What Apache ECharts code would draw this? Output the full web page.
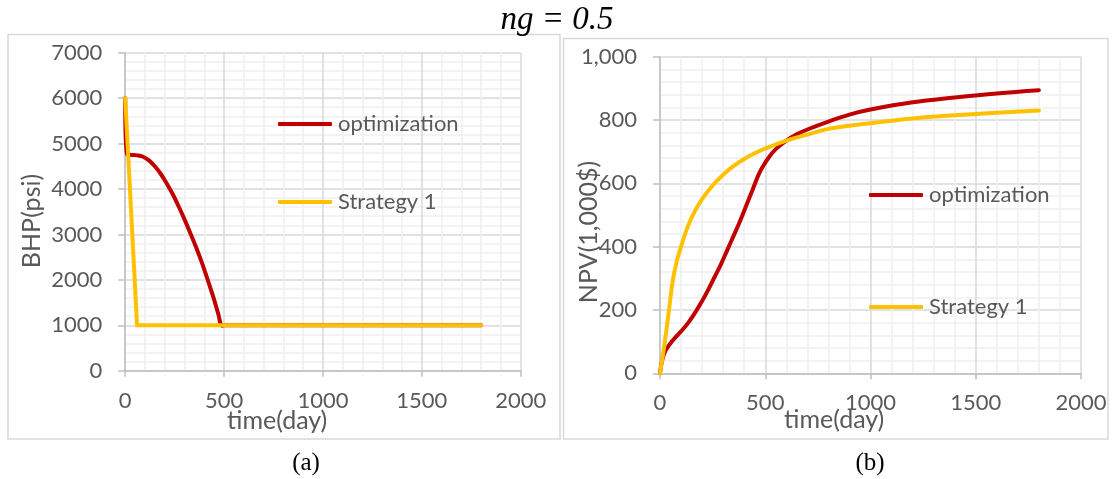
<!DOCTYPE html>
<html>
<head>
<meta charset="utf-8">
<script src="https://cdn.jsdelivr.net/npm/echarts@6/dist/echarts.min.js"></script>
<style>
html,body{margin:0;padding:0;background:#fff;}
#c{width:1113px;height:479px;}
</style>
</head>
<body>
<div id="c"></div>
<script>
// ---- data (time in days) ----
const xTicks = [0, 500, 1000, 1500, 2000];
const bhpTicks = [0, 1000, 2000, 3000, 4000, 5000, 6000, 7000];
const npvTicks = [0, 200, 400, 600, 800, 1000];
const seriesNames = ['optimization', 'Strategy 1'];

const bhpOptimization = [
  [0,6000],[10,4760],[30,4750],[60,4740],[90,4710],[120,4630],[150,4500],[180,4330],
  [210,4120],[240,3890],[270,3620],[300,3330],[330,3020],[360,2700],[390,2350],
  [420,1960],[450,1560],[470,1260],[490,990],[500,1000],[1800,1000]
];
const bhpStrategy1 = [[0,6000],[60,1000],[1800,1000]];

const npvOptimization = [
  [0,0],[10,40],[25,70],[50,95],[80,118],[110,140],[140,165],[170,195],[200,228],
  [230,265],[260,305],[290,345],[320,390],[350,435],[380,480],[410,530],[440,580],
  [470,630],[490,655],[520,685],[550,708],[600,735],[650,755],[700,770],[800,795],
  [900,817],[1000,833],[1200,856],[1400,871],[1600,884],[1800,894]
];
const npvStrategy1 = [
  [0,0],[20,85],[40,185],[60,290],[80,355],[100,400],[130,460],[160,505],[200,550],
  [250,593],[300,627],[350,655],[400,677],[450,695],[500,710],[600,735],[700,754],
  [800,772],[900,782],[1000,790],[1200,805],[1400,815],[1600,823],[1800,830]
];

// ---- styling ----
const FONT = 'Lato, "Open Sans", sans-serif';
const TXT = '#595959';
const RED = '#c00000';
const ORANGE = '#ffc000';

function xAxisCfg(gi){
  return {
    type:'value', gridIndex:gi, min:xTicks[0], max:xTicks[xTicks.length-1], interval:xTicks[1]-xTicks[0],
    axisLine:{show:true, onZero:false, lineStyle:{color:'#bfbfbf', width:1.5}},
    axisTick:{show:true, length:6, lineStyle:{color:'#bfbfbf', width:1.5}},
    minorTick:{show:false, splitNumber:5},
    minorSplitLine:{show:true, lineStyle:{color:'#efefef', width:1.5}},
    splitLine:{show:true, lineStyle:{color:'#d9d9d9', width:1.5}},
    axisLabel:{color:TXT, fontSize:22, fontFamily:FONT, margin:19, formatter:v => String(v)}
  };
}
function yAxisCfg(gi, ticks, fmt){
  return {
    type:'value', gridIndex:gi, min:ticks[0], max:ticks[ticks.length-1], interval:ticks[1]-ticks[0],
    axisLine:{show:true, lineStyle:{color:'#bfbfbf', width:1.5}},
    axisTick:{show:true, length:7, lineStyle:{color:'#bfbfbf', width:1.5}},
    minorTick:{show:false, splitNumber:5},
    minorSplitLine:{show:true, lineStyle:{color:'#efefef', width:1.5}},
    splitLine:{show:true, lineStyle:{color:'#d9d9d9', width:1.5}},
    axisLabel:{color:TXT, fontSize:22, fontFamily:FONT, margin:23, formatter:fmt}
  };
}
function legendCfg(name, left, cy){
  return {
    data:[name], left:left, top:cy-12, padding:0, orient:'horizontal',
    selectedMode:false, icon:'roundRect', itemWidth:54, itemHeight:4,
    textStyle:{color:TXT, fontSize:22, fontFamily:FONT, lineHeight:24, padding:[0,0,0,1]}
  };
}
function lineSeries(name, data, gi, color, smooth){
  return {
    type:'line', name:name, data:data, xAxisIndex:gi, yAxisIndex:gi,
    showSymbol:false, symbol:'none', smooth:smooth,
    lineStyle:{color:color, width:4, cap:'round', join:'round'}, itemStyle:{color:color},
    animation:false
  };
}

const chart = echarts.init(document.getElementById('c'), null, {renderer:'canvas'});
chart.setOption({
  backgroundColor:'#ffffff',
  animation:false,
  grid:[
    {left:125.2, top:52.7, width:395.5, height:318},
    {left:660, top:56.7, width:421, height:316.6}
  ],
  xAxis:[xAxisCfg(0), xAxisCfg(1)],
  yAxis:[
    yAxisCfg(0, bhpTicks, v => String(v)),
    yAxisCfg(1, npvTicks, v => v.toLocaleString('en-US'))
  ],
  legend:[
    legendCfg(seriesNames[0], 278, 124),
    legendCfg(seriesNames[1], 278, 202),
    legendCfg(seriesNames[0], 869, 195),
    legendCfg(seriesNames[1], 869, 307)
  ],
  series:[
    lineSeries(seriesNames[0], bhpOptimization, 0, RED, 0.4),
    lineSeries(seriesNames[1], bhpStrategy1, 0, ORANGE, false),
    lineSeries(seriesNames[0], npvOptimization, 1, RED, 0.4),
    lineSeries(seriesNames[1], npvStrategy1, 1, ORANGE, 0.4)
  ],
  graphic:[
    {type:'rect', z:-10, shape:{x:8, y:34.5, width:552, height:404.5}, style:{fill:'none', stroke:'#d9d9d9', lineWidth:1.5}},
    {type:'rect', z:-10, shape:{x:563.5, y:38.5, width:544.5, height:400.5}, style:{fill:'none', stroke:'#d9d9d9', lineWidth:1.5}},
    {type:'text', x:557, y:20, style:{text:'ng = 0.5', font:'italic 33px "Liberation Serif", "DejaVu Serif", serif', fill:'#000', align:'center', verticalAlign:'middle'}},
    {type:'text', x:306, y:463, style:{text:'(a)', font:'25px "Liberation Serif", serif', fill:'#000', align:'center', verticalAlign:'middle'}},
    {type:'text', x:870, y:463, style:{text:'(b)', font:'25px "Liberation Serif", serif', fill:'#000', align:'center', verticalAlign:'middle'}},
    {type:'text', x:227, y:421, style:{text:'time(day)', font:'25px Lato, sans-serif', fill:TXT, align:'left', verticalAlign:'middle'}},
    {type:'text', x:784, y:420, style:{text:'time(day)', font:'25px Lato, sans-serif', fill:TXT, align:'left', verticalAlign:'middle'}},
    {type:'text', x:32, y:221, rotation:Math.PI/2, style:{text:'BHP(psi)', font:'25px Lato, sans-serif', fill:TXT, align:'center', verticalAlign:'middle'}},
    {type:'text', x:589, y:232, rotation:Math.PI/2, style:{text:'NPV(1,000$)', font:'25px Lato, sans-serif', fill:TXT, align:'center', verticalAlign:'middle'}}
  ]
});
</script>
</body>
</html>
